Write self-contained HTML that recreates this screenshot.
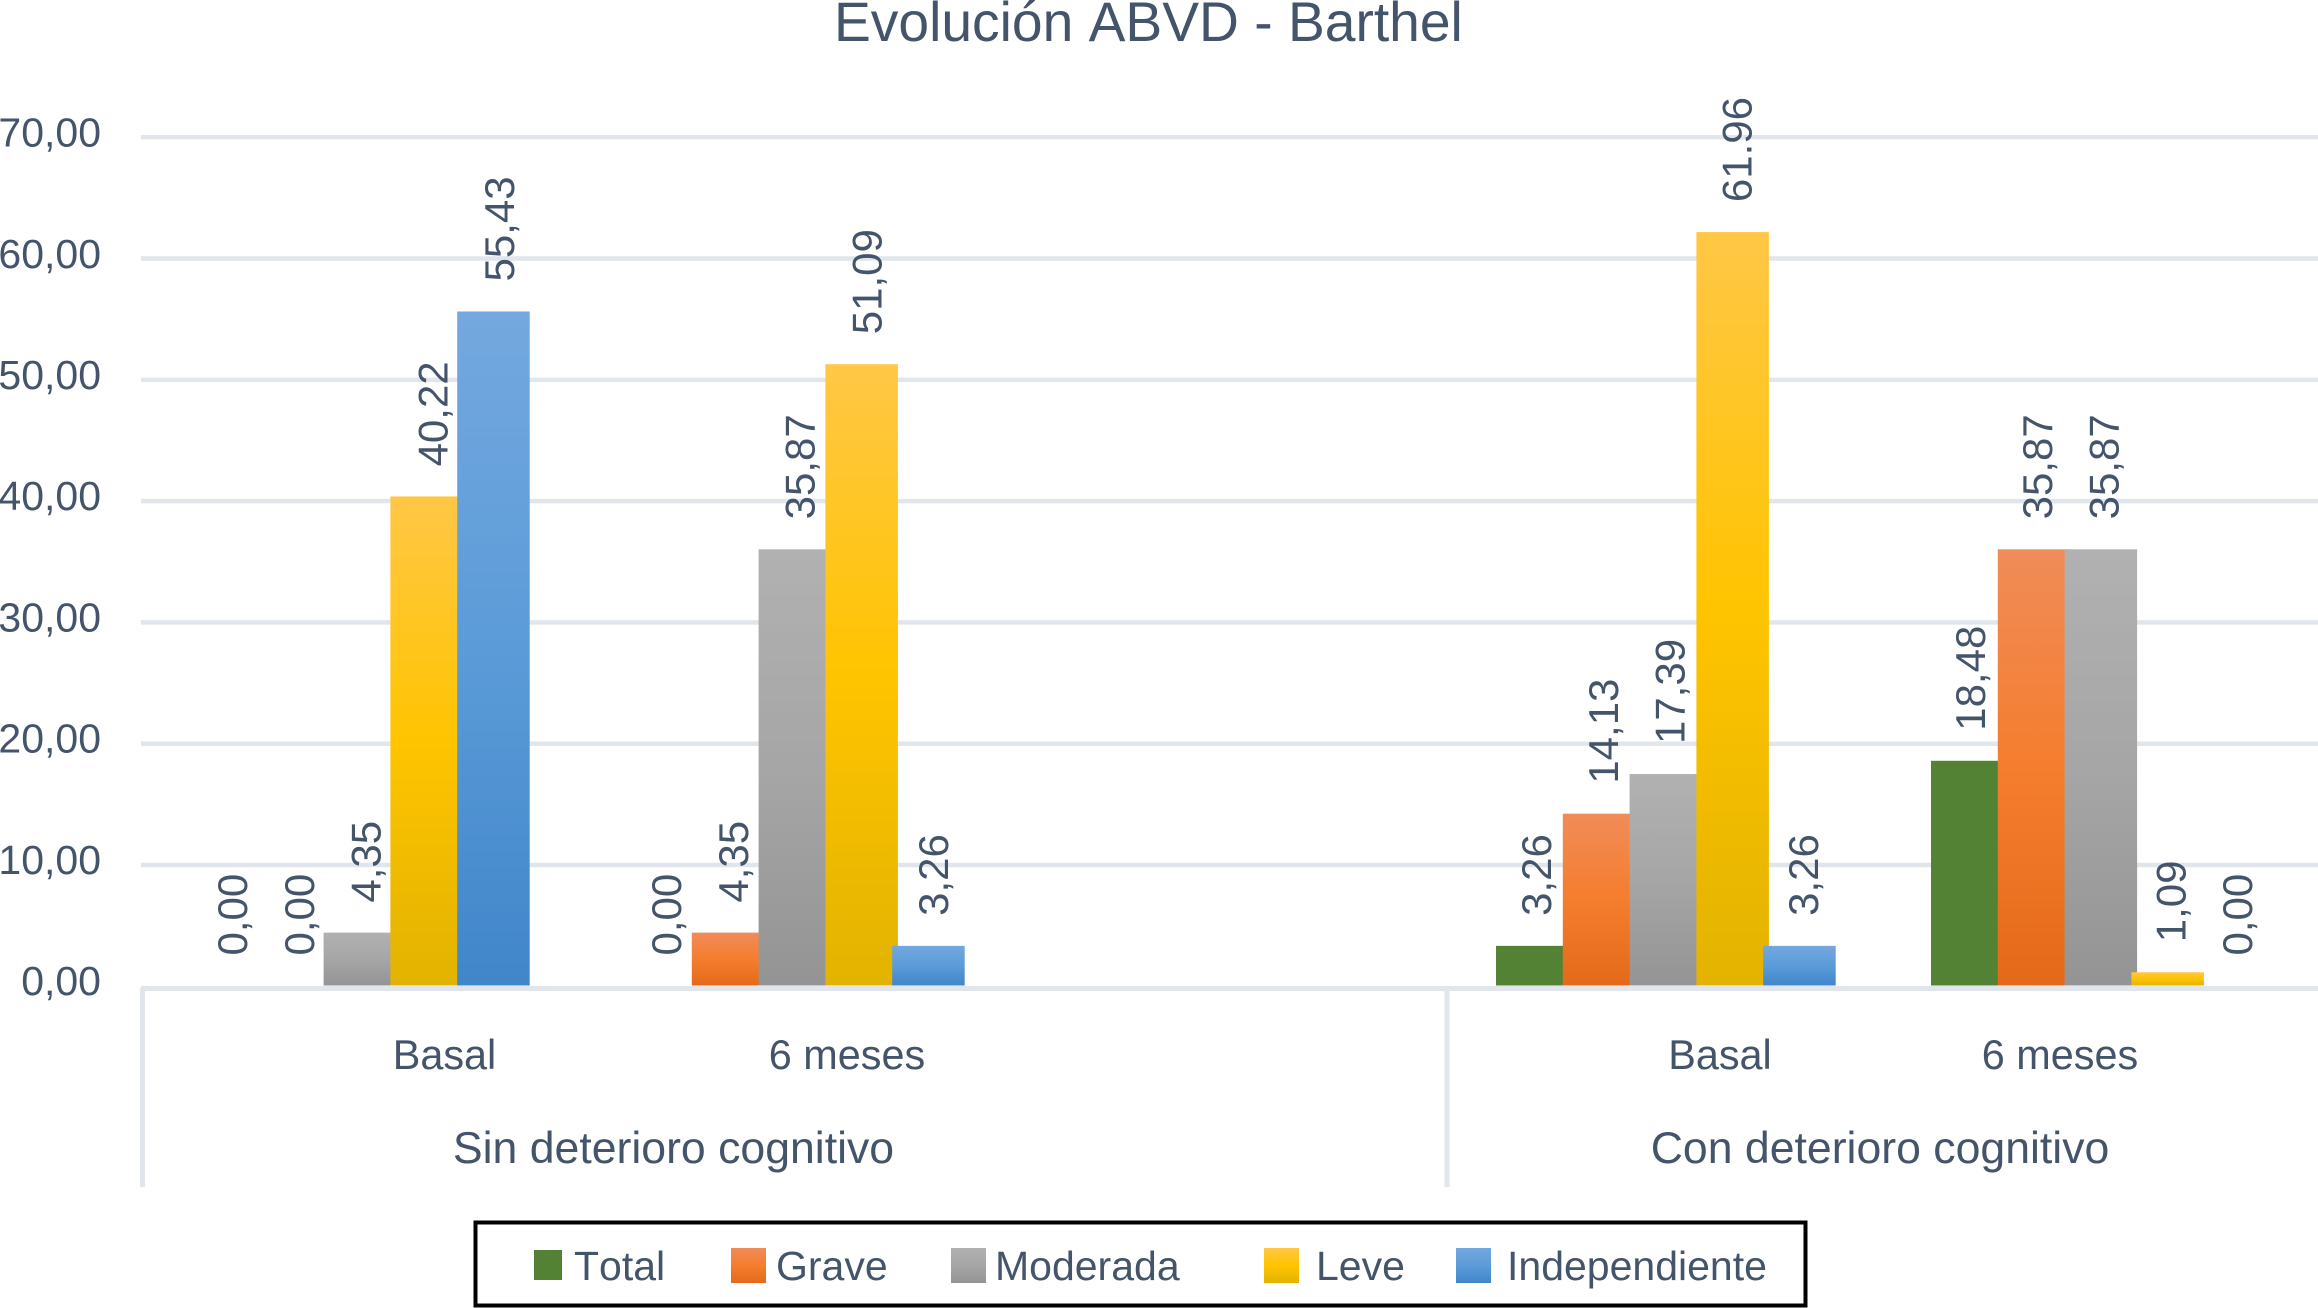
<!DOCTYPE html>
<html lang="es">
<head>
<meta charset="utf-8">
<title>Evolución ABVD - Barthel</title>
<style>
  html, body { margin: 0; padding: 0; background: #ffffff; }
  svg { display: block; }
  text { font-family: "Liberation Sans", sans-serif; fill: #44546a; font-size: 41px; font-kerning: none; }
</style>
</head>
<body>
<svg id="chart" xmlns="http://www.w3.org/2000/svg" width="2318" height="1308" viewBox="0 0 2318 1308">
  <defs>
    <linearGradient id="g-total" x1="0" y1="0" x2="0" y2="1"><stop offset="0" stop-color="#548235"/><stop offset="1" stop-color="#548235"/></linearGradient>
    <linearGradient id="g-grave" x1="0" y1="0" x2="0" y2="1"><stop offset="0" stop-color="#f08c58"/><stop offset="0.5" stop-color="#f57d2e"/><stop offset="1" stop-color="#e46a19"/></linearGradient>
    <linearGradient id="g-moderada" x1="0" y1="0" x2="0" y2="1"><stop offset="0" stop-color="#b1b1b1"/><stop offset="0.5" stop-color="#a6a6a6"/><stop offset="1" stop-color="#949494"/></linearGradient>
    <linearGradient id="g-leve" x1="0" y1="0" x2="0" y2="1"><stop offset="0" stop-color="#ffc746"/><stop offset="0.5" stop-color="#ffc400"/><stop offset="1" stop-color="#e2b300"/></linearGradient>
    <linearGradient id="g-independiente" x1="0" y1="0" x2="0" y2="1"><stop offset="0" stop-color="#74a8df"/><stop offset="0.5" stop-color="#5b9bd8"/><stop offset="1" stop-color="#4186ca"/></linearGradient>
  </defs>
  <rect x="0" y="0" width="2318" height="1308" fill="#ffffff"/>
  <text x="834" y="41" style="font-size:55.2px">Evolución ABVD - Barthel</text>
  <g id="grid"></g>
  <rect x="141" y="986" width="2177" height="5" fill="#e1e6ec"/>
  <g id="ticks"></g>
  <g id="axis"></g>
  <g id="bars"></g>
  <g id="labels"></g>
  <g id="legend">
    <rect x="475.5" y="1222.5" width="1330" height="83" fill="#ffffff" stroke="#000000" stroke-width="4"/>
  </g>
</svg>
<script>
// Chart data
const yTicks = [0, 10, 20, 30, 40, 50, 60, 70];
const innerCategories = ["Basal", "6 meses", "Basal", "6 meses"];
const outerCategories = ["Sin deterioro cognitivo", "Con deterioro cognitivo"];
const seriesNames = ["Total", "Grave", "Moderada", "Leve", "Independiente"];
const total = [0.00, 0.00, 3.26, 18.48];
const grave = [0.00, 4.35, 14.13, 35.87];
const moderada = [4.35, 35.87, 17.39, 35.87];
const leve = [40.22, 51.09, 61.96, 1.09];
const independiente = [55.43, 3.26, 3.26, 0.00];

const seriesValues = [total, grave, moderada, leve, independiente];
const seriesFill = ["g-total", "g-grave", "g-moderada", "g-leve", "g-independiente"];

const NS = "http://www.w3.org/2000/svg";

// Axis functions
function gridY(v) { return 986.3 - v * 12.13; }
function tickBaseline(v) { return 995 - v * 12.12; }
function barY(v) { return 985.5 - v * 12.16; }
function barX(cat, s) {
  const outer = Math.floor(cat / 2), inner = cat % 2;
  return 190 + outer * 1306 + inner * 435 + s * 66.8;
}
function labelX(cat, s) {
  const outer = Math.floor(cat / 2), inner = cat % 2;
  return 247 + outer * 1304 + inner * 434 + s * 66.8;
}
function innerLabelX(cat) {
  const outer = Math.floor(cat / 2), inner = cat % 2;
  return 444.5 + outer * 1275.5 + inner * 402.5 - outer * inner * 62.5;
}
function outerLabelX(o) { return 673.5 + o * 1206.5; }
function outerEdgeX(o) { return 142.5 + o * 1304.5; }
function formatValue(v, cat, s) {
  const text = v.toFixed(2);
  return (cat === 2 && s === 3) ? text : text.replace(".", ",");
}
function svgEl(tag, attrs) {
  const el = document.createElementNS(NS, tag);
  for (const k in attrs) el.setAttribute(k, attrs[k]);
  return el;
}

const gridGroup = document.getElementById("grid");
const tickGroup = document.getElementById("ticks");
yTicks.forEach(function (v) {
  if (v > 0) {
    const line = svgEl("rect", { x: 141, y: gridY(v) - 2.25, width: 2177, height: 4.5, fill: "#e1e6ec" });
    
    
    gridGroup.appendChild(line);
  }

  const label = svgEl("text", { x: 101, y: tickBaseline(v), "text-anchor": "end" });
  
  
  label.textContent = v.toFixed(2).replace(".", ",");
  tickGroup.appendChild(label);
});

const axisGroup = document.getElementById("axis");
outerCategories.forEach(function (name, o) {
  const edge = svgEl("rect", { x: outerEdgeX(o) - 2.5, y: 988, width: 5, height: 199, fill: "#e1e6ec" });
  
  
  axisGroup.appendChild(edge);

  const label = svgEl("text", { x: outerLabelX(o), y: 1163, "text-anchor": "middle", style: "font-size:44.6px" });
  
  
  label.textContent = name;
  axisGroup.appendChild(label);
});
innerCategories.forEach(function (name, c) {
  const label = svgEl("text", { x: innerLabelX(c), y: 1069, "text-anchor": "middle", style: "font-size:41.4px" });
  
  
  label.textContent = name;
  axisGroup.appendChild(label);
});

const barGroup = document.getElementById("bars");
const labelGroup = document.getElementById("labels");
innerCategories.forEach(function (name, c) {
  seriesValues.forEach(function (values, s) {
    const v = values[c];
    const bar = svgEl("rect", {
      x: barX(c, s),
      y: barY(v),
      width: 72.5,
      height: Math.max(0, barY(0) - barY(v)),
      fill: "url(#" + seriesFill[s] + ")"
    });
    
    
    barGroup.appendChild(bar);

    const lx = labelX(c, s), ly = barY(v) - 30;
    const label = svgEl("text", { x: lx, y: ly, transform: "rotate(-90 " + lx + " " + ly + ")", style: "font-size:42px" });
    
    
    label.textContent = formatValue(v, c, s);
    labelGroup.appendChild(label);
  });
});

// Legend layout
const legendSwatchLeft = [534, 731, 951, 1264, 1456];
const legendTextLeft = [574, 776, 995, 1316, 1507];
const legendGroup = document.getElementById("legend");
seriesNames.forEach(function (name, s) {
  const swatch = svgEl("rect", {
    x: legendSwatchLeft[s],
    y: s === 0 ? 1250 : 1248,
    width: s === 0 ? 28 : 35,
    height: s === 0 ? 30 : 35,
    fill: "url(#" + seriesFill[s] + ")"
  });
  
  
  legendGroup.appendChild(swatch);

  const label = svgEl("text", { x: legendTextLeft[s], y: 1280 });
  
  
  label.textContent = name;
  legendGroup.appendChild(label);
});
</script>
</body>
</html>
